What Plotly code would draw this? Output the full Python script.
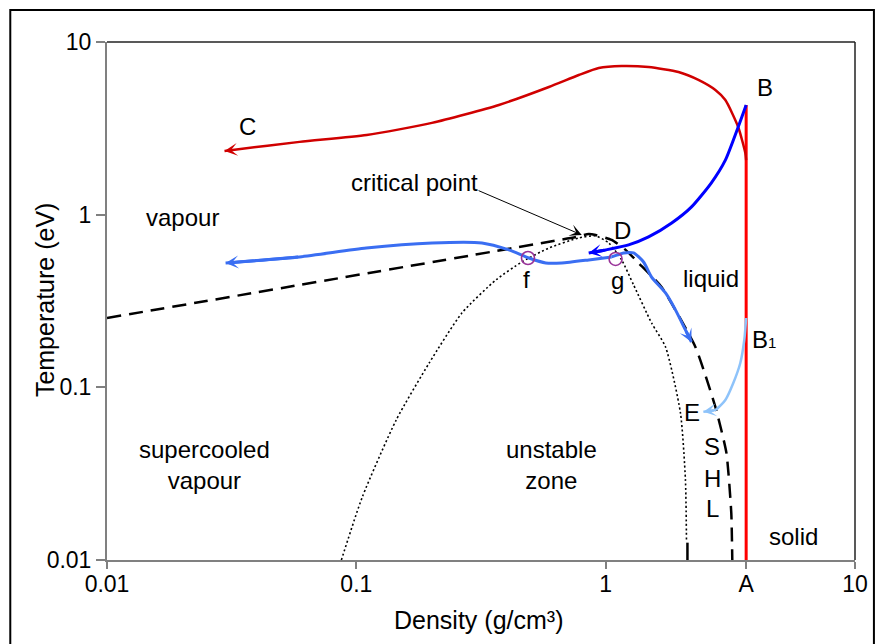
import numpy as np
import plotly.graph_objects as go

# ---------------- data (density g/cm3, temperature eV) ----------------
A_DENS = 3.66

red_c_x = [3.66, 3.63, 3.40, 3.02, 2.754, 2.355, 1.959, 1.486, 1.159, 0.938, 0.780,
           0.592, 0.373, 0.201, 0.110, 0.0592, 0.0319, 0.0296]
red_c_y = [2.07, 2.28, 3.22, 4.61, 5.27, 6.03, 6.70, 7.16, 7.26, 7.07, 6.44,
           5.49, 4.32, 3.40, 2.89, 2.64, 2.37, 2.34]

red_v_x = [3.66, 3.66]
red_v_y = [0.01, 4.32]

blue_b_x = [3.66, 3.40, 3.02, 2.65, 2.21, 1.84, 1.486, 1.236, 1.0, 0.855]
blue_b_y = [4.32, 3.22, 2.07, 1.525, 1.11, 0.895, 0.743, 0.668, 0.625, 0.600]

blue_left_x = [1.057, 0.855, 0.667, 0.575, 0.492, 0.409, 0.319, 0.2014, 0.1096, 0.0592, 0.0299]
blue_left_y = [0.569, 0.547, 0.525, 0.525, 0.561, 0.625, 0.686, 0.686, 0.641, 0.569, 0.525]

blue_right_x = [1.057, 1.180, 1.294, 1.419, 1.528, 1.738, 1.905, 2.089, 2.208]
blue_right_y = [0.569, 0.600, 0.600, 0.532, 0.435, 0.352, 0.281, 0.215, 0.183]

light_x = [3.66, 3.597, 3.467, 3.25, 3.02, 2.754, 2.466]
light_y = [0.252, 0.188, 0.1384, 0.106, 0.0845, 0.0739, 0.0721]

binodal_x = [0.01, 0.759, 0.855, 0.912, 1.057, 1.202, 1.355, 1.675, 2.29, 2.754, 3.05, 3.19, 3.22]
binodal_y = [0.252, 0.743, 0.773, 0.763, 0.714, 0.625, 0.525, 0.381, 0.1714, 0.077, 0.0417, 0.01875, 0.01]

spinodal_x = [0.0871, 0.1057, 0.1445, 0.196, 0.2655, 0.363, 0.461, 0.592, 0.780, 0.912,
              1.028, 1.159, 1.294, 1.528, 1.738, 1.995, 2.089, 2.109]
spinodal_y = [0.01, 0.0232, 0.0647, 0.1384, 0.270, 0.419, 0.532, 0.641, 0.733, 0.753,
              0.686, 0.547, 0.392, 0.236, 0.1714, 0.0711, 0.0291, 0.01306]

bar_x = [2.128, 2.128]
bar_y = [0.01, 0.0126]

circle_x = [0.488, 1.096]
circle_y = [0.561, 0.554]

x_tickvals = [0.01, 0.1, 1, A_DENS, 10]
x_ticktext = ["0.01", "0.1", "1", "A", "10"]
y_tickvals = [0.01, 0.1, 1, 10]
y_ticktext = ["0.01", "0.1", "1", "10"]

labels = [
    ("C", 0.0366, 3.22),
    ("B", 4.37, 5.48),
    ("D", 1.17, 0.815),
    ("vapour", 0.020, 0.957),
    ("critical point", 0.1706, 1.546),
    ("f", 0.483, 0.419),
    ("g", 1.117, 0.415),
    ("liquid", 2.65, 0.425),
    ("B<span style='font-size:15px'>1</span>", 4.33, 0.19),
    ("E", 2.21, 0.0711),
    ("S", 2.68, 0.0452),
    ("H", 2.68, 0.0298),
    ("L", 2.68, 0.0200),
    ("supercooled<br>vapour", 0.0247, 0.0356),
    ("unstable<br>zone", 0.608, 0.0356),
    ("solid", 5.65, 0.0136),
]

crit_head = (0.802, 0.763)
crit_tail = (0.305, 1.39)

FONT = "Liberation Sans, Arial, sans-serif"
LABEL_SIZE = 24
TICK_SIZE = 23
TITLE_SIZE = 25

fig = go.Figure()
annotations = []


def add_arrow_path(x, y, color, width, head_px=13):
    fig.add_trace(go.Scatter(x=x, y=y, mode="lines",
                             line=dict(color=color, width=width, shape="spline", smoothing=0.6),
                             hoverinfo="skip"))
    annotations.append(dict(x=np.log10(x[-1]), y=np.log10(y[-1]), xref="x", yref="y",
                            ax=np.log10(x[-2]), ay=np.log10(y[-2]), axref="x", ayref="y",
                            text="", showarrow=True, arrowhead=3,
                            arrowwidth=width, arrowsize=head_px / 6.0 / width, arrowcolor=color))


# binodal (dashed)
fig.add_trace(go.Scatter(x=binodal_x, y=binodal_y, mode="lines",
                         line=dict(color="black", width=2.5, dash="14px,8px", shape="spline", smoothing=0.5),
                         hoverinfo="skip"))
# spinodal (dotted)
fig.add_trace(go.Scatter(x=spinodal_x, y=spinodal_y, mode="lines",
                         line=dict(color="black", width=1.6, dash="2px,2.5px", shape="spline", smoothing=0.6),
                         hoverinfo="skip"))
fig.add_trace(go.Scatter(x=bar_x, y=bar_y, mode="lines", line=dict(color="black", width=2.5), hoverinfo="skip"))

# red vertical
fig.add_trace(go.Scatter(x=red_v_x, y=red_v_y, mode="lines", line=dict(color="#FF0000", width=3), hoverinfo="skip"))
# arrow paths
add_arrow_path(red_c_x, red_c_y, "#D00000", 2.5)
add_arrow_path(blue_b_x, blue_b_y, "#0000FF", 3)
add_arrow_path(blue_left_x, blue_left_y, "#3A6EF2", 3)
add_arrow_path(blue_right_x, blue_right_y, "#3A6EF2", 3)
add_arrow_path(light_x, light_y, "#8EC3FA", 2.5)

# circles f, g
fig.add_trace(go.Scatter(x=circle_x, y=circle_y, mode="markers",
                         marker=dict(symbol="circle-open", size=13, color="#993399", line=dict(width=1.6)),
                         hoverinfo="skip"))

for text, lx, ly in labels:
    annotations.append(dict(x=np.log10(lx), y=np.log10(ly), xref="x", yref="y", text=text,
                            showarrow=False, font=dict(size=LABEL_SIZE, family=FONT, color="black"),
                            xanchor="center", yanchor="middle"))

annotations.append(dict(x=np.log10(crit_head[0]), y=np.log10(crit_head[1]), xref="x", yref="y",
                        ax=np.log10(crit_tail[0]), ay=np.log10(crit_tail[1]), axref="x", ayref="y",
                        text="", showarrow=True, arrowhead=3, arrowsize=2.0, arrowwidth=1, arrowcolor="black"))

annotations.append(dict(x=-0.0827, y=0.502, xref="paper", yref="paper", text="Temperature (eV)",
                        textangle=-90, showarrow=False, xanchor="center", yanchor="middle",
                        font=dict(size=TITLE_SIZE, family=FONT, color="black")))
annotations.append(dict(x=0.497, y=-0.116, xref="paper", yref="paper", text="Density (g/cm³)",
                        showarrow=False, xanchor="center", yanchor="middle",
                        font=dict(size=TITLE_SIZE, family=FONT, color="black")))

shapes = [
    dict(type="rect", xref="paper", yref="paper", x0=-0.1293, x1=1.0253, y0=-0.17, y1=1.0618,
         line=dict(color="black", width=2)),
    dict(type="line", xref="paper", yref="paper", x0=0, x1=1, y0=1, y1=1, line=dict(color="#222", width=1.5)),
    dict(type="line", xref="paper", yref="paper", x0=1, x1=1, y0=0, y1=1, line=dict(color="#222", width=1.5)),
]

fig.update_layout(
    width=880, height=644, margin=dict(l=107, r=23, t=42, b=84),
    plot_bgcolor="white", paper_bgcolor="white", showlegend=False,
    font=dict(family=FONT, size=LABEL_SIZE, color="black"),
    annotations=annotations, shapes=shapes,
    xaxis=dict(type="log", range=[-2, 1], tickvals=x_tickvals, ticktext=x_ticktext,
               ticks="outside", ticklen=7, tickcolor="#808080", tickwidth=1.5, ticklabelstandoff=-5,
               showline=True, linecolor="#808080", linewidth=2, showgrid=False, zeroline=False,
               tickfont=dict(size=TICK_SIZE, family=FONT, color="black")),
    yaxis=dict(type="log", range=[-2, 1], tickvals=y_tickvals, ticktext=y_ticktext,
               ticks="outside", ticklen=9, tickcolor="#808080", tickwidth=1.5,
               showline=True, linecolor="#808080", linewidth=2, showgrid=False, zeroline=False,
               tickfont=dict(size=TICK_SIZE, family=FONT, color="black")),
)

fig.write_html("out.html")
